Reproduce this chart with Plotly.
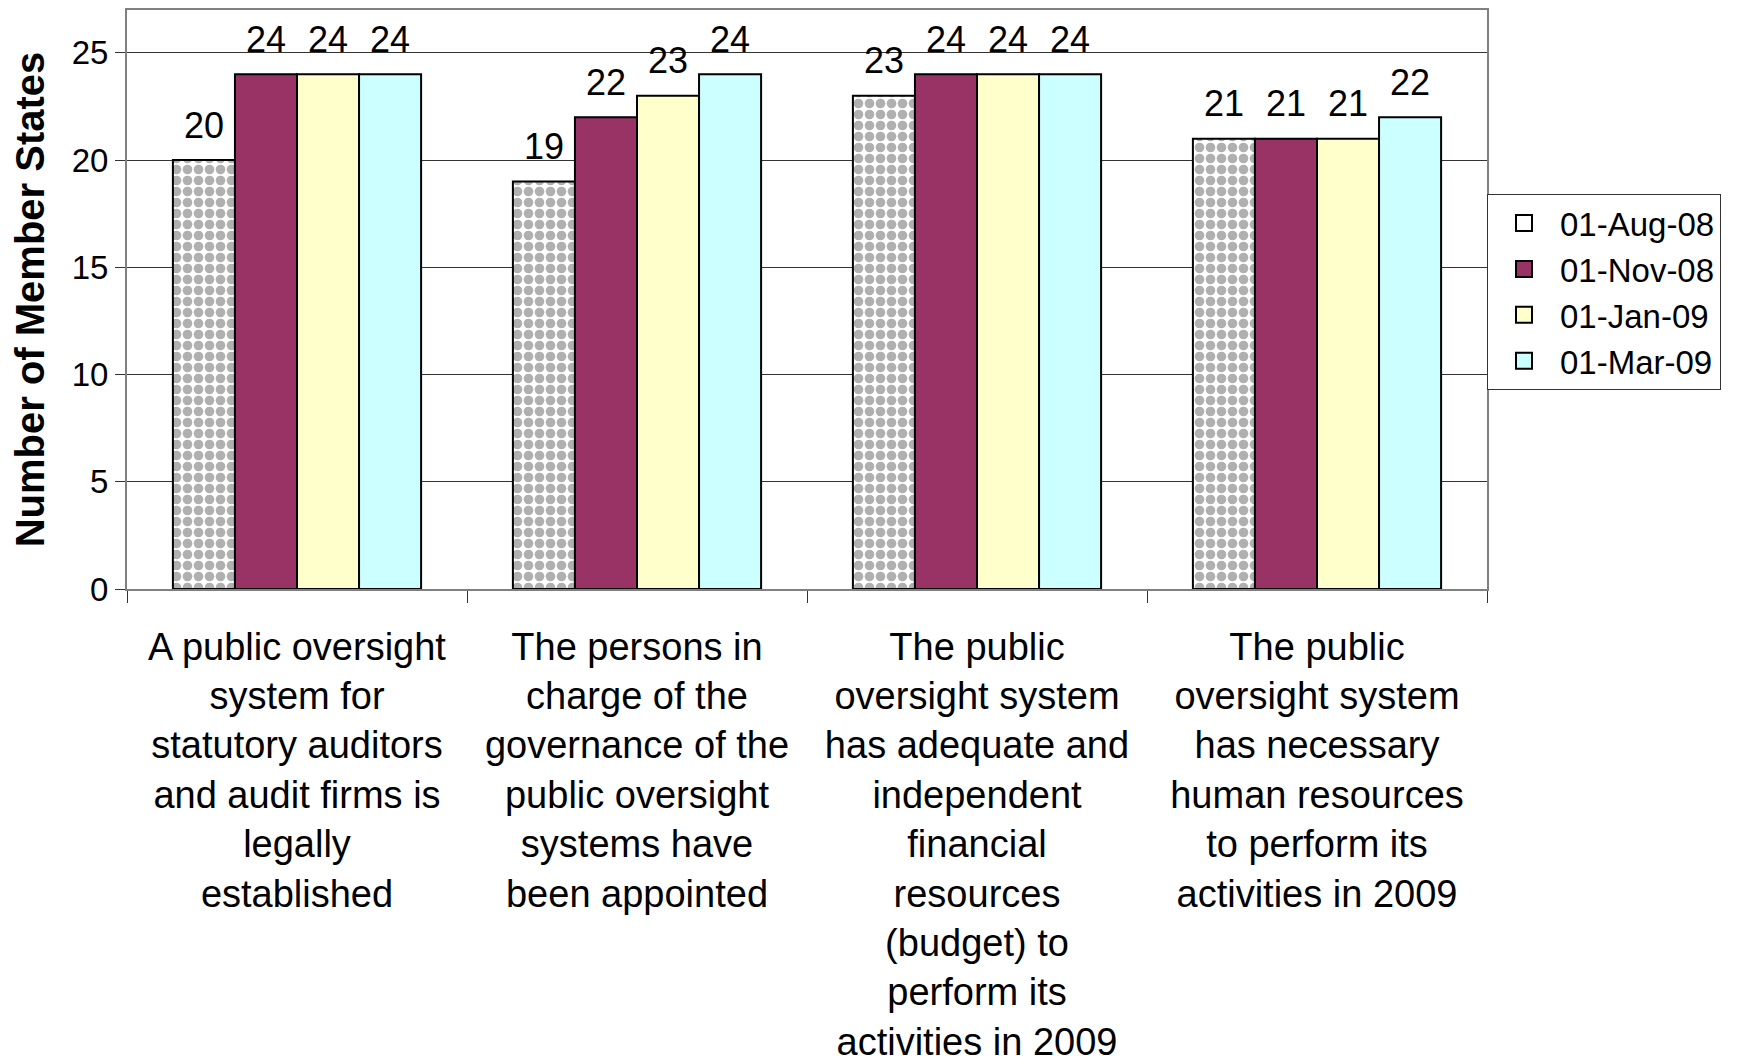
import plotly.graph_objects as go

categories = [
    "A public oversight<br>system for<br>statutory auditors<br>and audit firms is<br>legally<br>established",
    "The persons in<br>charge of the<br>governance of the<br>public oversight<br>systems have<br>been appointed",
    "The public<br>oversight system<br>has adequate and<br>independent<br>financial<br>resources<br>(budget) to<br>perform its<br>activities in 2009",
    "The public<br>oversight system<br>has necessary<br>human resources<br>to perform its<br>activities in 2009",
]
series_names = ["01-Aug-08", "01-Nov-08", "01-Jan-09", "01-Mar-09"]
aug08 = [20, 19, 23, 21]
nov08 = [24, 22, 24, 21]
jan09 = [24, 23, 24, 21]
mar09 = [24, 24, 24, 22]
y_ticks = [0, 5, 10, 15, 20, 25]

FONT = "Liberation Sans, Arial, sans-serif"
values = [aug08, nov08, jan09, mar09]
colors = ["#FFFFFF", "#993366", "#FFFFCC", "#CCFFFF"]

fig = go.Figure()
for i, (name, vals, col) in enumerate(zip(series_names, values, colors)):
    marker = dict(color=col, line=dict(color="#000000", width=2))
    if i == 0:
        marker["pattern"] = dict(shape=".", fgcolor="#B0B0B0", bgcolor="#FFFFFF",
                                 size=11, solidity=0.6, fillmode="replace")
    fig.add_trace(go.Bar(x=categories, y=vals, name=name, marker=marker,
                         offsetgroup=str(i), hoverinfo="skip", showlegend=False))

# data labels, grouped like the bars
for i, (name, vals) in enumerate(zip(series_names, values)):
    fig.add_trace(go.Scatter(
        x=categories, y=vals, mode="markers+text", text=[str(v) for v in vals],
        textposition="top center", offsetgroup=str(i),
        marker=dict(size=20, color="rgba(0,0,0,0)"),
        textfont=dict(family=FONT, size=36, color="#000000"),
        showlegend=False, hoverinfo="skip", cliponaxis=False))

# legend entries (larger square swatches), on a hidden overlay axis
for name, col in zip(series_names, colors):
    fig.add_trace(go.Scatter(
        x=[None], y=[None], mode="markers", name=name, xaxis="x2", yaxis="y2",
        marker=dict(symbol="square", size=16, color=col,
                    line=dict(color="#000000", width=2)),
        hoverinfo="skip"))

fig.update_layout(
    width=1751, height=1061,
    margin=dict(l=119, r=272, t=2, b=480, autoexpand=False),
    paper_bgcolor="white", plot_bgcolor="white",
    barmode="group", bargap=0.27, bargroupgap=0,
    scattermode="group", scattergap=0.27,
    font=dict(family=FONT, color="#000000"),
    legend=dict(
        x=1.0, xanchor="left", y=0.682, yanchor="top",
        bordercolor="#333333", borderwidth=1, bgcolor="white",
        font=dict(family=FONT, size=33, color="#000000"),
        tracegroupgap=0, itemwidth=62,
    ),
    showlegend=True,
    xaxis=dict(
        type="category", tickson="boundaries", ticks="outside", ticklen=12,
        tickcolor="#333333",
        tickfont=dict(family=FONT, size=38, color="#000000"),
        showline=True, linecolor="#808080", linewidth=2, mirror=True,
        tickangle=0, ticklabelstandoff=23,
    ),
    yaxis=dict(
        range=[0, 27], tickvals=y_ticks, ticktext=[str(t) for t in y_ticks],
        showgrid=True, gridcolor="#333333", gridwidth=1,
        ticks="outside", ticklen=10, tickcolor="#333333",
        tickfont=dict(family=FONT, size=33, color="#000000"),
        showline=True, linecolor="#808080", linewidth=2, mirror=True,
        zeroline=False,
        title=dict(text="<b>Number of Member States</b>",
                   font=dict(family=FONT, size=40, color="#000000"), standoff=15),
    ),
    xaxis2=dict(overlaying="x", visible=False, range=[0, 1]),
    yaxis2=dict(overlaying="y", visible=False, range=[0, 1]),
)

fig.write_html("out.html")
